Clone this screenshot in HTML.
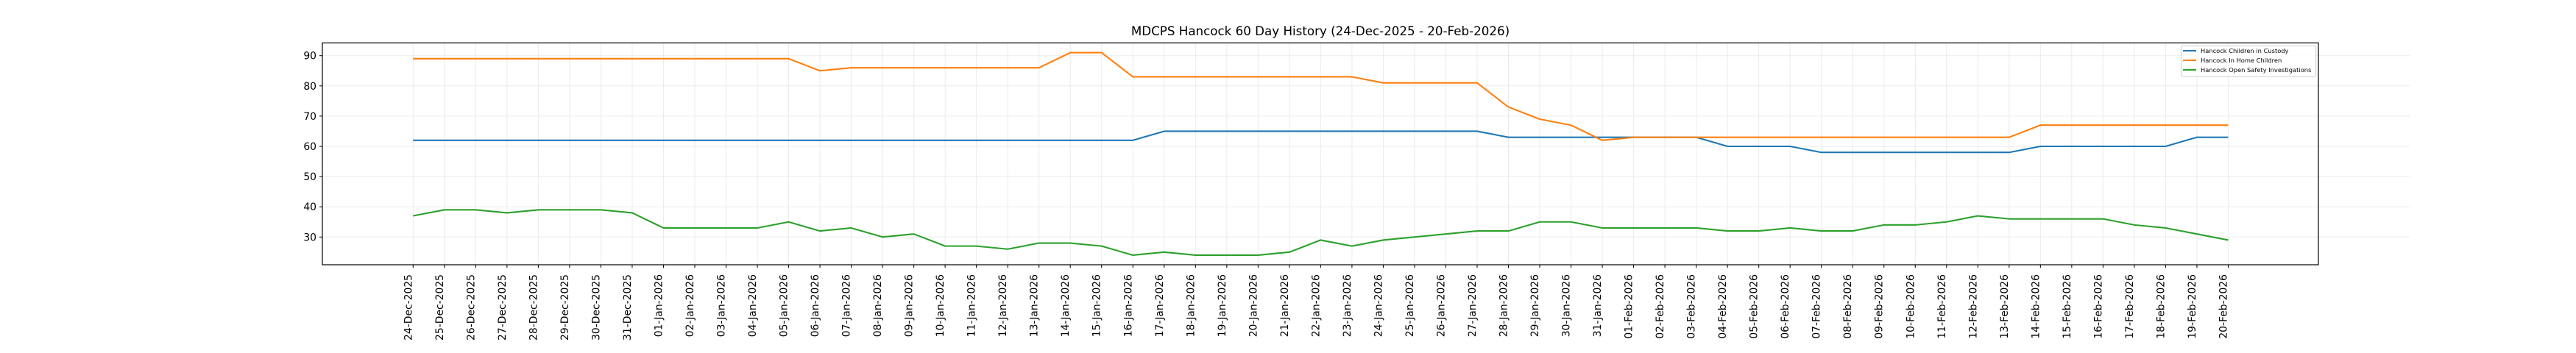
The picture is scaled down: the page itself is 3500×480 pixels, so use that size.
<!DOCTYPE html>
<html><head><meta charset="utf-8"><style>
html,body{margin:0;padding:0;background:#fff;}
svg{display:block;font-family:"DejaVu Sans","Liberation Sans",sans-serif;}
</style></head><body>
<svg width="3500" height="480" viewBox="0 0 3500 480" xmlns="http://www.w3.org/2000/svg">
<rect width="3500" height="480" fill="#fff"/>
<text x="1794" y="48" font-size="16.7" text-anchor="middle" fill="#000">MDCPS Hancock 60 Day History (24-Dec-2025 - 20-Feb-2026)</text>
<g transform="translate(561.3,445.6) scale(42.52,-4.11)" fill="none">
<path vector-effect="non-scaling-stroke" stroke="#ebebeb" stroke-width="1" d="M-2.88,30H63.8M-2.88,40H63.8M-2.88,50H63.8M-2.88,60H63.8M-2.88,70H63.8M-2.88,80H63.8M-2.88,90H63.8
M0,20.8V94.2M1,20.8V94.2M2,20.8V94.2M3,20.8V94.2M4,20.8V94.2M5,20.8V94.2M6,20.8V94.2M7,20.8V94.2M8,20.8V94.2M9,20.8V94.2M10,20.8V94.2M11,20.8V94.2M12,20.8V94.2M13,20.8V94.2M14,20.8V94.2M15,20.8V94.2M16,20.8V94.2M17,20.8V94.2M18,20.8V94.2M19,20.8V94.2M20,20.8V94.2M21,20.8V94.2M22,20.8V94.2M23,20.8V94.2M24,20.8V94.2M25,20.8V94.2M26,20.8V94.2M27,20.8V94.2M28,20.8V94.2M29,20.8V94.2M30,20.8V94.2M31,20.8V94.2M32,20.8V94.2M33,20.8V94.2M34,20.8V94.2M35,20.8V94.2M36,20.8V94.2M37,20.8V94.2M38,20.8V94.2M39,20.8V94.2M40,20.8V94.2M41,20.8V94.2M42,20.8V94.2M43,20.8V94.2M44,20.8V94.2M45,20.8V94.2M46,20.8V94.2M47,20.8V94.2M48,20.8V94.2M49,20.8V94.2M50,20.8V94.2M51,20.8V94.2M52,20.8V94.2M53,20.8V94.2M54,20.8V94.2M55,20.8V94.2M56,20.8V94.2M57,20.8V94.2M58,20.8V94.2"/>
<path vector-effect="non-scaling-stroke" stroke="#000" stroke-width="1" d="M0,20.8V19.8M1,20.8V19.8M2,20.8V19.8M3,20.8V19.8M4,20.8V19.8M5,20.8V19.8M6,20.8V19.8M7,20.8V19.8M8,20.8V19.8M9,20.8V19.8M10,20.8V19.8M11,20.8V19.8M12,20.8V19.8M13,20.8V19.8M14,20.8V19.8M15,20.8V19.8M16,20.8V19.8M17,20.8V19.8M18,20.8V19.8M19,20.8V19.8M20,20.8V19.8M21,20.8V19.8M22,20.8V19.8M23,20.8V19.8M24,20.8V19.8M25,20.8V19.8M26,20.8V19.8M27,20.8V19.8M28,20.8V19.8M29,20.8V19.8M30,20.8V19.8M31,20.8V19.8M32,20.8V19.8M33,20.8V19.8M34,20.8V19.8M35,20.8V19.8M36,20.8V19.8M37,20.8V19.8M38,20.8V19.8M39,20.8V19.8M40,20.8V19.8M41,20.8V19.8M42,20.8V19.8M43,20.8V19.8M44,20.8V19.8M45,20.8V19.8M46,20.8V19.8M47,20.8V19.8M48,20.8V19.8M49,20.8V19.8M50,20.8V19.8M51,20.8V19.8M52,20.8V19.8M53,20.8V19.8M54,20.8V19.8M55,20.8V19.8M56,20.8V19.8M57,20.8V19.8M58,20.8V19.8"/>
<polyline vector-effect="non-scaling-stroke" stroke="#1f77b4" stroke-width="2.1" stroke-linejoin="round" points="0,62 23,62 24,65 34,65 35,63 41,63 42,60 44,60 45,58 51,58 52,60 56,60 57,63 58,63"/>
<polyline vector-effect="non-scaling-stroke" stroke="#ff7f0e" stroke-width="2.1" stroke-linejoin="round" points="0,89 12,89 13,85 14,86 20,86 21,91 22,91 23,83 30,83 31,81 34,81 35,73 36,69 37,67 38,62 39,63 51,63 52,67 58,67"/>
<polyline vector-effect="non-scaling-stroke" stroke="#2ca02c" stroke-width="2.1" stroke-linejoin="round" points="0,37 1,39 2,39 3,38 4,39 5,39 6,39 7,38 8,33 9,33 10,33 11,33 12,35 13,32 14,33 15,30 16,31 17,27 18,27 19,26 20,28 21,28 22,27 23,24 24,25 25,24 26,24 27,24 28,25 29,29 30,27 31,29 32,30 33,31 34,32 35,32 36,35 37,35 38,33 39,33 40,33 41,33 42,32 43,32 44,33 45,32 46,32 47,34 48,34 49,35 50,37 51,36 52,36 53,36 54,36 55,34 56,33 57,31 58,29"/>
</g>
<rect x="438" y="58.3" width="2712" height="301.7" fill="none" stroke="#000" stroke-width="1.2"/>
<g stroke="#000" stroke-width="1">
<line x1="434" x2="438" y1="322.3" y2="322.3"/><line x1="434" x2="438" y1="281.2" y2="281.2"/><line x1="434" x2="438" y1="240.1" y2="240.1"/><line x1="434" x2="438" y1="199" y2="199"/><line x1="434" x2="438" y1="157.9" y2="157.9"/><line x1="434" x2="438" y1="116.8" y2="116.8"/><line x1="434" x2="438" y1="75.7" y2="75.7"/>
</g>
<g font-size="13.9" text-anchor="end" fill="#000">
<text x="430" y="327.3">30</text><text x="430" y="286.2">40</text><text x="430" y="245.1">50</text><text x="430" y="204">60</text><text x="430" y="162.9">70</text><text x="430" y="121.8">80</text><text x="430" y="80.7">90</text>
</g>
<g font-size="13.9" text-anchor="end" fill="#000" transform="translate(-7,0)">
<text transform="translate(566.3,373) rotate(-90)">24-Dec-2025</text>
<text transform="translate(608.8,373) rotate(-90)">25-Dec-2025</text>
<text transform="translate(651.3,373) rotate(-90)">26-Dec-2025</text>
<text transform="translate(693.9,373) rotate(-90)">27-Dec-2025</text>
<text transform="translate(736.4,373) rotate(-90)">28-Dec-2025</text>
<text transform="translate(778.9,373) rotate(-90)">29-Dec-2025</text>
<text transform="translate(821.4,373) rotate(-90)">30-Dec-2025</text>
<text transform="translate(863.9,373) rotate(-90)">31-Dec-2025</text>
<text transform="translate(906.5,373) rotate(-90)">01-Jan-2026</text>
<text transform="translate(949,373) rotate(-90)">02-Jan-2026</text>
<text transform="translate(991.5,373) rotate(-90)">03-Jan-2026</text>
<text transform="translate(1034,373) rotate(-90)">04-Jan-2026</text>
<text transform="translate(1076.5,373) rotate(-90)">05-Jan-2026</text>
<text transform="translate(1119.1,373) rotate(-90)">06-Jan-2026</text>
<text transform="translate(1161.6,373) rotate(-90)">07-Jan-2026</text>
<text transform="translate(1204.1,373) rotate(-90)">08-Jan-2026</text>
<text transform="translate(1246.6,373) rotate(-90)">09-Jan-2026</text>
<text transform="translate(1289.1,373) rotate(-90)">10-Jan-2026</text>
<text transform="translate(1331.7,373) rotate(-90)">11-Jan-2026</text>
<text transform="translate(1374.2,373) rotate(-90)">12-Jan-2026</text>
<text transform="translate(1416.7,373) rotate(-90)">13-Jan-2026</text>
<text transform="translate(1459.2,373) rotate(-90)">14-Jan-2026</text>
<text transform="translate(1501.7,373) rotate(-90)">15-Jan-2026</text>
<text transform="translate(1544.3,373) rotate(-90)">16-Jan-2026</text>
<text transform="translate(1586.8,373) rotate(-90)">17-Jan-2026</text>
<text transform="translate(1629.3,373) rotate(-90)">18-Jan-2026</text>
<text transform="translate(1671.8,373) rotate(-90)">19-Jan-2026</text>
<text transform="translate(1714.3,373) rotate(-90)">20-Jan-2026</text>
<text transform="translate(1756.9,373) rotate(-90)">21-Jan-2026</text>
<text transform="translate(1799.4,373) rotate(-90)">22-Jan-2026</text>
<text transform="translate(1841.9,373) rotate(-90)">23-Jan-2026</text>
<text transform="translate(1884.4,373) rotate(-90)">24-Jan-2026</text>
<text transform="translate(1926.9,373) rotate(-90)">25-Jan-2026</text>
<text transform="translate(1969.5,373) rotate(-90)">26-Jan-2026</text>
<text transform="translate(2012,373) rotate(-90)">27-Jan-2026</text>
<text transform="translate(2054.5,373) rotate(-90)">28-Jan-2026</text>
<text transform="translate(2097,373) rotate(-90)">29-Jan-2026</text>
<text transform="translate(2139.5,373) rotate(-90)">30-Jan-2026</text>
<text transform="translate(2182.1,373) rotate(-90)">31-Jan-2026</text>
<text transform="translate(2224.6,373) rotate(-90)">01-Feb-2026</text>
<text transform="translate(2267.1,373) rotate(-90)">02-Feb-2026</text>
<text transform="translate(2309.6,373) rotate(-90)">03-Feb-2026</text>
<text transform="translate(2352.1,373) rotate(-90)">04-Feb-2026</text>
<text transform="translate(2394.7,373) rotate(-90)">05-Feb-2026</text>
<text transform="translate(2437.2,373) rotate(-90)">06-Feb-2026</text>
<text transform="translate(2479.7,373) rotate(-90)">07-Feb-2026</text>
<text transform="translate(2522.2,373) rotate(-90)">08-Feb-2026</text>
<text transform="translate(2564.7,373) rotate(-90)">09-Feb-2026</text>
<text transform="translate(2607.3,373) rotate(-90)">10-Feb-2026</text>
<text transform="translate(2649.8,373) rotate(-90)">11-Feb-2026</text>
<text transform="translate(2692.3,373) rotate(-90)">12-Feb-2026</text>
<text transform="translate(2734.8,373) rotate(-90)">13-Feb-2026</text>
<text transform="translate(2777.3,373) rotate(-90)">14-Feb-2026</text>
<text transform="translate(2819.9,373) rotate(-90)">15-Feb-2026</text>
<text transform="translate(2862.4,373) rotate(-90)">16-Feb-2026</text>
<text transform="translate(2904.9,373) rotate(-90)">17-Feb-2026</text>
<text transform="translate(2947.4,373) rotate(-90)">18-Feb-2026</text>
<text transform="translate(2989.9,373) rotate(-90)">19-Feb-2026</text>
<text transform="translate(3032.5,373) rotate(-90)">20-Feb-2026</text>
</g>
<rect x="2963.5" y="62.5" width="183" height="41.5" rx="2" fill="#fff" fill-opacity="0.8" stroke="#d0d0d0" stroke-width="1"/>
<line x1="2966" x2="2984" y1="69" y2="69" stroke="#1f77b4" stroke-width="2"/>
<line x1="2966" x2="2984" y1="82" y2="82" stroke="#ff7f0e" stroke-width="2"/>
<line x1="2966" x2="2984" y1="95" y2="95" stroke="#2ca02c" stroke-width="2"/>
<g font-size="8.3" fill="#000">
<text x="2990" y="72">Hancock Children in Custody</text>
<text x="2990" y="85">Hancock In Home Children</text>
<text x="2990" y="98">Hancock Open Safety Investigations</text>
</g>
</svg>
</body></html>
